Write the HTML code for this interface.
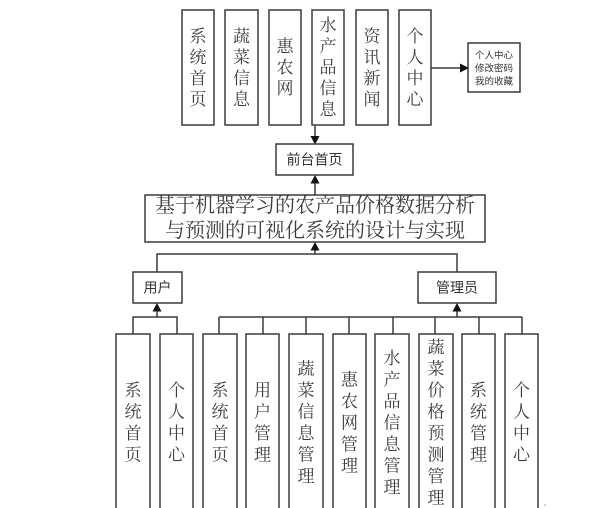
<!DOCTYPE html>
<html>
<head>
<meta charset="utf-8">
<style>
html,body{margin:0;padding:0;background:#fff;}
svg{display:block;}
.b{fill:#fff;stroke:#3a3a3a;stroke-width:1.5;}
.l{stroke:#3a3a3a;stroke-width:1.5;fill:none;}
.a{fill:#111;}
.s{font-family:"Liberation Serif","Noto Serif CJK SC",serif;fill:#3c3c3c;text-anchor:middle;}
.n{font-family:"Liberation Sans","Noto Sans CJK SC",sans-serif;fill:#333;text-anchor:middle;}
</style>
</head>
<body>
<svg width="600" height="508" viewBox="0 0 600 508" xmlns="http://www.w3.org/2000/svg">
<!-- top row boxes -->
<rect class="b" x="182" y="10" width="32" height="115"/>
<rect class="b" x="225" y="10" width="33" height="115"/>
<rect class="b" x="269" y="10" width="32" height="115"/>
<rect class="b" x="312" y="10" width="32" height="115"/>
<rect class="b" x="356" y="10" width="32" height="115"/>
<rect class="b" x="399" y="10" width="32" height="115"/>
<g class="s" font-size="17">
<text x="198" y="42">系</text><text x="198" y="63">统</text><text x="198" y="84">首</text><text x="198" y="105">页</text>
<text x="241.5" y="42">蔬</text><text x="241.5" y="63">菜</text><text x="241.5" y="84">信</text><text x="241.5" y="105">息</text>
<text x="285" y="52">惠</text><text x="285" y="73">农</text><text x="285" y="94">网</text>
<text x="328" y="31">水</text><text x="328" y="52">产</text><text x="328" y="73">品</text><text x="328" y="94">信</text><text x="328" y="115">息</text>
<text x="372" y="42">资</text><text x="372" y="63">讯</text><text x="372" y="84">新</text><text x="372" y="105">闻</text>
<text x="415" y="42">个</text><text x="415" y="63">人</text><text x="415" y="84">中</text><text x="415" y="105">心</text>
</g>
<!-- right small box -->
<line class="l" x1="431" y1="68" x2="461" y2="68"/>
<polygon class="a" points="460,63.5 460,72.5 469,68"/>
<rect class="b" x="468" y="43" width="52" height="49"/>
<g class="n" font-size="9.5">
<text x="494" y="58.5">个人中心</text>
<text x="494" y="71.5">修改密码</text>
<text x="494" y="84.5">我的收藏</text>
</g>
<!-- arrow down to 前台首页 -->
<line class="l" x1="315" y1="125" x2="315" y2="137"/>
<polygon class="a" points="310.5,136 319.5,136 315,144.5"/>
<rect class="b" x="276" y="144" width="77" height="31"/>
<text class="n" x="314.5" y="164.5" font-size="14">前台首页</text>
<!-- arrow up from title to 前台首页 -->
<line class="l" x1="315" y1="195" x2="315" y2="183"/>
<polygon class="a" points="310.5,183.5 319.5,183.5 315,175"/>
<!-- title box -->
<rect class="b" x="145" y="195" width="340" height="47"/>
<g class="s" font-size="20">
<text x="315" y="212">基于机器学习的农产品价格数据分析</text>
<text x="315" y="237">与预测的可视化系统的设计与实现</text>
</g>
<!-- connector to title -->
<polyline class="l" points="157,272 157,254 457,254 457,272"/>
<line class="l" x1="315" y1="254" x2="315" y2="250"/>
<polygon class="a" points="310.5,250.5 319.5,250.5 315,242"/>
<!-- user / admin boxes -->
<rect class="b" x="133" y="272" width="49" height="31"/>
<text class="n" x="157.5" y="292.5" font-size="14">用户</text>
<rect class="b" x="418" y="272" width="78" height="31"/>
<text class="n" x="457" y="292.5" font-size="14">管理员</text>
<!-- arrows to user/admin -->
<line class="l" x1="157" y1="317" x2="157" y2="311"/>
<polygon class="a" points="152.5,311.5 161.5,311.5 157,303"/>
<line class="l" x1="457" y1="317" x2="457" y2="311"/>
<polygon class="a" points="452.5,311.5 461.5,311.5 457,303"/>
<!-- horizontal distribution lines -->
<polyline class="l" points="133,334 133,317 177,317 177,334"/>
<line class="l" x1="219" y1="317" x2="522" y2="317"/>
<g class="l">
<line x1="219" y1="317" x2="219" y2="334"/>
<line x1="263" y1="317" x2="263" y2="334"/>
<line x1="306" y1="317" x2="306" y2="334"/>
<line x1="349" y1="317" x2="349" y2="334"/>
<line x1="393" y1="317" x2="393" y2="334"/>
<line x1="435" y1="317" x2="435" y2="334"/>
<line x1="479" y1="317" x2="479" y2="334"/>
<line x1="522" y1="317" x2="522" y2="334"/>
</g>
<!-- bottom boxes -->
<rect class="b" x="116" y="334" width="34" height="190"/>
<rect class="b" x="160" y="334" width="33" height="190"/>
<rect class="b" x="203" y="334" width="34" height="190"/>
<rect class="b" x="246" y="334" width="33" height="190"/>
<rect class="b" x="289" y="334" width="34" height="190"/>
<rect class="b" x="333" y="334" width="33" height="190"/>
<rect class="b" x="375" y="334" width="34" height="190"/>
<rect class="b" x="419" y="334" width="34" height="190"/>
<rect class="b" x="462" y="334" width="33" height="190"/>
<rect class="b" x="505" y="334" width="33" height="190"/>
<g class="s" font-size="17">
<!-- 系统首页 -->
<text x="133" y="396">系</text><text x="133" y="417.5">统</text><text x="133" y="439">首</text><text x="133" y="460.5">页</text>
<!-- 个人中心 -->
<text x="176.5" y="396">个</text><text x="176.5" y="417.5">人</text><text x="176.5" y="439">中</text><text x="176.5" y="460.5">心</text>
<!-- 系统首页 -->
<text x="220" y="396">系</text><text x="220" y="417.5">统</text><text x="220" y="439">首</text><text x="220" y="460.5">页</text>
<!-- 用户管理 -->
<text x="262.5" y="396">用</text><text x="262.5" y="417.5">户</text><text x="262.5" y="439">管</text><text x="262.5" y="460.5">理</text>
<!-- 蔬菜信息管理 -->
<text x="306" y="374.5">蔬</text><text x="306" y="396">菜</text><text x="306" y="417.5">信</text><text x="306" y="439">息</text><text x="306" y="460.5">管</text><text x="306" y="482">理</text>
<!-- 惠农网管理 -->
<text x="349.5" y="385.5">惠</text><text x="349.5" y="407">农</text><text x="349.5" y="428.5">网</text><text x="349.5" y="450">管</text><text x="349.5" y="471.5">理</text>
<!-- 水产品信息管理 -->
<text x="392" y="364">水</text><text x="392" y="385.5">产</text><text x="392" y="407">品</text><text x="392" y="428.5">信</text><text x="392" y="450">息</text><text x="392" y="471.5">管</text><text x="392" y="493">理</text>
<!-- 蔬菜价格预测管理 -->
<text x="436" y="353">蔬</text><text x="436" y="374.5">菜</text><text x="436" y="396">价</text><text x="436" y="417.5">格</text><text x="436" y="439">预</text><text x="436" y="460.5">测</text><text x="436" y="482">管</text><text x="436" y="503.5">理</text>
<!-- 系统管理 -->
<text x="478.5" y="396">系</text><text x="478.5" y="417.5">统</text><text x="478.5" y="439">管</text><text x="478.5" y="460.5">理</text>
<!-- 个人中心 -->
<text x="521.5" y="396">个</text><text x="521.5" y="417.5">人</text><text x="521.5" y="439">中</text><text x="521.5" y="460.5">心</text>
</g>
<circle cx="545" cy="505" r="0.8" fill="#999"/>
</svg>
</body>
</html>
